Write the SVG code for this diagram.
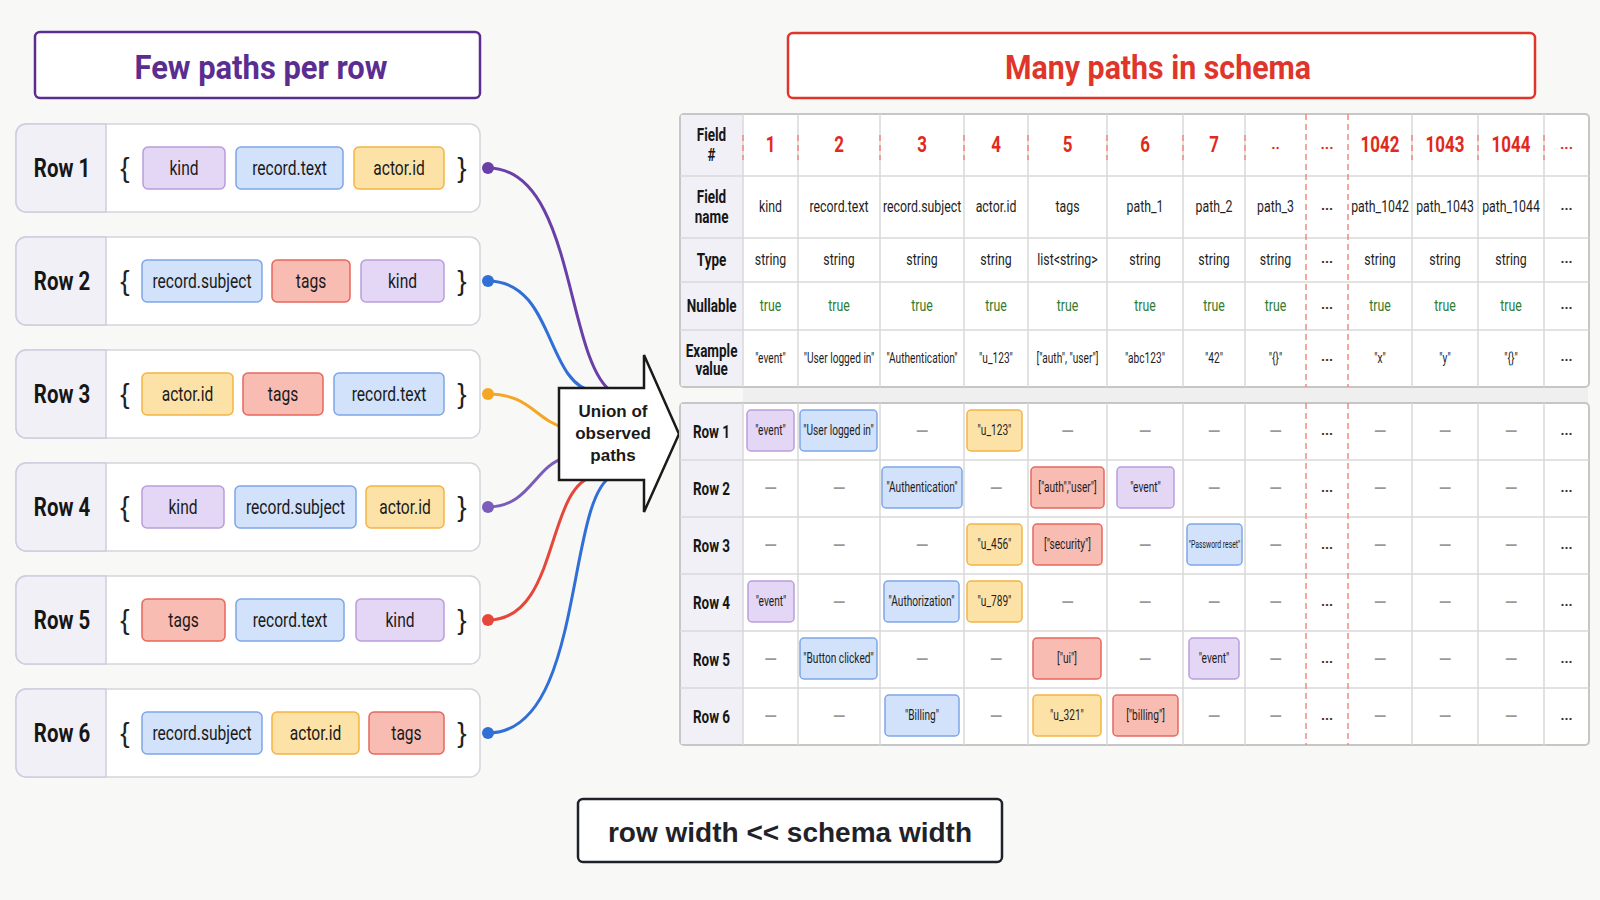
<svg xmlns="http://www.w3.org/2000/svg" width="1600" height="900" viewBox="0 0 1600 900">
<style>
.n{font-family:Roboto,"Liberation Sans",sans-serif}
.w{font-family:"Liberation Sans",Arial,sans-serif}
.c80,.c77,.c70,.c65{transform-box:fill-box;transform-origin:50% 50%}
.c80{transform:scaleX(.8)}
.c77{transform:scaleX(.77)}
.c70{transform:scaleX(.7)}
.c65{transform:scaleX(.65)}
.tl{font-weight:bold;font-size:34px;text-anchor:middle}
.tbox{fill:#fff;stroke-width:2.5}
.rowbox{fill:#fff;stroke:#d5d5dc;stroke-width:1.5}
.rowlab{fill:#f1f0f7;stroke:#cfcbe0;stroke-width:1.5}
.lbl{font-weight:bold;font-size:25.5px;fill:#161616;text-anchor:middle}
.brace{font-size:28px;fill:#222;text-anchor:middle}
.cp{fill:#e4d6f5;stroke:#b99ddb;stroke-width:1.5}
.cb{fill:#d2e2fb;stroke:#7ea6e8;stroke-width:1.5}
.co{fill:#fde2a8;stroke:#f3b443;stroke-width:1.5}
.cr{fill:#f9bcb3;stroke:#e8675c;stroke-width:1.5}
.ct{font-size:19.5px;fill:#1a1a1a;text-anchor:middle}
.con{fill:none;stroke-width:3;stroke-linecap:round}
.frame{fill:#fff;stroke:#c6c6c6;stroke-width:2}
.labcell{fill:#f1f0f6}
.grid{stroke:#d9d9d9;stroke-width:1.5}
.redd{stroke:#ef8a84;stroke-width:1.5;stroke-dasharray:6 4}
.th{font-weight:bold;font-size:17.5px;fill:#161616;text-anchor:middle}
.num{font-weight:bold;font-size:22px;fill:#e02a20;text-anchor:middle}
.tc{font-size:16px;fill:#1e1e1e;text-anchor:middle}
.tru{font-size:16px;fill:#2e7d32;text-anchor:middle}
.ex{font-size:14.5px;fill:#1e1e1e;text-anchor:middle}
.ell{font-weight:bold;font-size:14px;fill:#333;text-anchor:middle}
.ellr{font-weight:bold;font-size:15px;fill:#e02a20;text-anchor:middle}
.dash{font-size:16px;font-weight:bold;fill:#999;text-anchor:middle}
</style>
<rect width="1600" height="900" fill="#f8f8f7"/>

<g id="title-left">
<rect class="tbox" x="35" y="32" width="445" height="66" rx="5" stroke="#5b2d91"/>
<text class="n tl" x="261" y="79" fill="#5b2d91" textLength="253" lengthAdjust="spacingAndGlyphs">Few paths per row</text>
</g>
<g id="title-right">
<rect class="tbox" x="788" y="33" width="747" height="65" rx="5" stroke="#e0352b"/>
<text class="n tl" x="1158" y="79" fill="#e0352b" textLength="306" lengthAdjust="spacingAndGlyphs">Many paths in schema</text>
</g>

<g id="connectors">
<path class="con" stroke="#6a3fa8" d="M488,168 C575,168 565,360 612,392"/>
<path class="con" stroke="#2f6fd6" d="M488,281 C555,281 545,385 595,392"/>
<path class="con" stroke="#f5a623" d="M488,394 C530,394 535,420 565,428"/>
<path class="con" stroke="#7b5cb8" d="M488,507 C530,507 535,465 565,458"/>
<path class="con" stroke="#e5483b" d="M488,620 C560,620 545,485 595,476"/>
<path class="con" stroke="#2f6fd6" d="M488,733 C585,733 565,500 612,476"/>
<circle cx="488" cy="168" r="6" fill="#6a3fa8"/>
<circle cx="488" cy="281" r="6" fill="#2f6fd6"/>
<circle cx="488" cy="394" r="6" fill="#f5a623"/>
<circle cx="488" cy="507" r="6" fill="#7b5cb8"/>
<circle cx="488" cy="620" r="6" fill="#e5483b"/>
<circle cx="488" cy="733" r="6" fill="#2f6fd6"/>
</g>

<g id="row1">
<rect class="rowbox" x="16" y="124" width="464" height="88" rx="10"/>
<path class="rowlab" d="M106,124 H26 A10,10 0 0 0 16,134 V202 A10,10 0 0 0 26,212 H106 Z"/>
<text class="n c80 lbl" x="62" y="177">Row 1</text>
<text class="w brace" x="125" y="177">{</text><text class="w brace" x="462" y="177">}</text>
<rect class="cp" x="143" y="147" width="82" height="42" rx="5"/><text class="n c80 ct" x="184" y="175">kind</text>
<rect class="cb" x="236" y="147" width="107" height="42" rx="5"/><text class="n c80 ct" x="289.5" y="175">record.text</text>
<rect class="co" x="354" y="147" width="90" height="42" rx="5"/><text class="n c80 ct" x="399" y="175">actor.id</text>
</g>
<g id="row2">
<rect class="rowbox" x="16" y="237" width="464" height="88" rx="10"/>
<path class="rowlab" d="M106,237 H26 A10,10 0 0 0 16,247 V315 A10,10 0 0 0 26,325 H106 Z"/>
<text class="n c80 lbl" x="62" y="290">Row 2</text>
<text class="w brace" x="125" y="290">{</text><text class="w brace" x="462" y="290">}</text>
<rect class="cb" x="142" y="260" width="120" height="42" rx="5"/><text class="n c80 ct" x="202" y="288">record.subject</text>
<rect class="cr" x="272" y="260" width="78" height="42" rx="5"/><text class="n c80 ct" x="311" y="288">tags</text>
<rect class="cp" x="361" y="260" width="83" height="42" rx="5"/><text class="n c80 ct" x="402.5" y="288">kind</text>
</g>
<g id="row3">
<rect class="rowbox" x="16" y="350" width="464" height="88" rx="10"/>
<path class="rowlab" d="M106,350 H26 A10,10 0 0 0 16,360 V428 A10,10 0 0 0 26,438 H106 Z"/>
<text class="n c80 lbl" x="62" y="403">Row 3</text>
<text class="w brace" x="125" y="403">{</text><text class="w brace" x="462" y="403">}</text>
<rect class="co" x="142" y="373" width="91" height="42" rx="5"/><text class="n c80 ct" x="187.5" y="401">actor.id</text>
<rect class="cr" x="243" y="373" width="80" height="42" rx="5"/><text class="n c80 ct" x="283" y="401">tags</text>
<rect class="cb" x="334" y="373" width="110" height="42" rx="5"/><text class="n c80 ct" x="389" y="401">record.text</text>
</g>
<g id="row4">
<rect class="rowbox" x="16" y="463" width="464" height="88" rx="10"/>
<path class="rowlab" d="M106,463 H26 A10,10 0 0 0 16,473 V541 A10,10 0 0 0 26,551 H106 Z"/>
<text class="n c80 lbl" x="62" y="516">Row 4</text>
<text class="w brace" x="125" y="516">{</text><text class="w brace" x="462" y="516">}</text>
<rect class="cp" x="142" y="486" width="82" height="42" rx="5"/><text class="n c80 ct" x="183" y="514">kind</text>
<rect class="cb" x="235" y="486" width="121" height="42" rx="5"/><text class="n c80 ct" x="295.5" y="514">record.subject</text>
<rect class="co" x="366" y="486" width="78" height="42" rx="5"/><text class="n c80 ct" x="405" y="514">actor.id</text>
</g>
<g id="row5">
<rect class="rowbox" x="16" y="576" width="464" height="88" rx="10"/>
<path class="rowlab" d="M106,576 H26 A10,10 0 0 0 16,586 V654 A10,10 0 0 0 26,664 H106 Z"/>
<text class="n c80 lbl" x="62" y="629">Row 5</text>
<text class="w brace" x="125" y="629">{</text><text class="w brace" x="462" y="629">}</text>
<rect class="cr" x="142" y="599" width="83" height="42" rx="5"/><text class="n c80 ct" x="183.5" y="627">tags</text>
<rect class="cb" x="236" y="599" width="108" height="42" rx="5"/><text class="n c80 ct" x="290" y="627">record.text</text>
<rect class="cp" x="356" y="599" width="88" height="42" rx="5"/><text class="n c80 ct" x="400" y="627">kind</text>
</g>
<g id="row6">
<rect class="rowbox" x="16" y="689" width="464" height="88" rx="10"/>
<path class="rowlab" d="M106,689 H26 A10,10 0 0 0 16,699 V767 A10,10 0 0 0 26,777 H106 Z"/>
<text class="n c80 lbl" x="62" y="742">Row 6</text>
<text class="w brace" x="125" y="742">{</text><text class="w brace" x="462" y="742">}</text>
<rect class="cb" x="142" y="712" width="120" height="42" rx="5"/><text class="n c80 ct" x="202" y="740">record.subject</text>
<rect class="co" x="272" y="712" width="87" height="42" rx="5"/><text class="n c80 ct" x="315.5" y="740">actor.id</text>
<rect class="cr" x="369" y="712" width="75" height="42" rx="5"/><text class="n c80 ct" x="406.5" y="740">tags</text>
</g>

<g id="union">
<path d="M559,388 L644,388 L644,355 L679,434 L644,512 L644,480 L559,480 Z" fill="#fff" stroke="#1a1a1a" stroke-width="2.5" stroke-linejoin="miter"/>
<text class="w" x="613" y="417" font-size="17" font-weight="bold" fill="#1a1a1a" text-anchor="middle">Union of</text>
<text class="w" x="613" y="439" font-size="17" font-weight="bold" fill="#1a1a1a" text-anchor="middle">observed</text>
<text class="w" x="613" y="461" font-size="17" font-weight="bold" fill="#1a1a1a" text-anchor="middle">paths</text>
</g>

<g id="schema-header">
<rect class="frame" x="680" y="114" width="909" height="273" rx="4"/>
<rect class="labcell" x="681" y="115" width="62" height="271"/>
<rect x="743" y="388" width="845" height="15" fill="#efefef"/>
<g class="grid">
<line x1="743" y1="114" x2="743" y2="387"/><line x1="798" y1="114" x2="798" y2="387"/><line x1="880" y1="114" x2="880" y2="387"/><line x1="964" y1="114" x2="964" y2="387"/><line x1="1028" y1="114" x2="1028" y2="387"/><line x1="1107" y1="114" x2="1107" y2="387"/><line x1="1183" y1="114" x2="1183" y2="387"/><line x1="1245" y1="114" x2="1245" y2="387"/><line x1="1412" y1="114" x2="1412" y2="387"/><line x1="1478" y1="114" x2="1478" y2="387"/><line x1="1544" y1="114" x2="1544" y2="387"/>
<line x1="680" y1="176" x2="1589" y2="176"/><line x1="680" y1="238" x2="1589" y2="238"/><line x1="680" y1="282" x2="1589" y2="282"/><line x1="680" y1="330" x2="1589" y2="330"/>
</g>
<g class="redd">
<line x1="1306" y1="114" x2="1306" y2="387"/><line x1="1348" y1="114" x2="1348" y2="387"/>
<line x1="743" y1="135" x2="743" y2="160"/><line x1="798" y1="135" x2="798" y2="160"/><line x1="880" y1="135" x2="880" y2="160"/><line x1="964" y1="135" x2="964" y2="160"/><line x1="1028" y1="135" x2="1028" y2="160"/><line x1="1107" y1="135" x2="1107" y2="160"/><line x1="1183" y1="135" x2="1183" y2="160"/><line x1="1245" y1="135" x2="1245" y2="160"/><line x1="1412" y1="135" x2="1412" y2="160"/><line x1="1478" y1="135" x2="1478" y2="160"/><line x1="1544" y1="135" x2="1544" y2="160"/>
</g>
<g class="n">
<text class="c77 th" x="711.5" y="141">Field</text><text class="c77 th" x="711.5" y="161">#</text>
<text class="c77 th" x="711.5" y="203">Field</text><text class="c77 th" x="711.5" y="223">name</text>
<text class="c77 th" x="711.5" y="266">Type</text>
<text class="c77 th" x="711.5" y="312">Nullable</text>
<text class="c77 th" x="711.5" y="357">Example</text><text class="c77 th" x="711.5" y="375">value</text>

<text class="c77 num" x="770.5" y="152">1</text><text class="c77 num" x="839" y="152">2</text><text class="c77 num" x="922" y="152">3</text><text class="c77 num" x="996" y="152">4</text><text class="c77 num" x="1067.5" y="152">5</text><text class="c77 num" x="1145" y="152">6</text><text class="c77 num" x="1214" y="152">7</text><text class="ellr" x="1275.5" y="149">..</text><text class="ellr" x="1327" y="149">...</text><text class="c77 num" x="1380" y="152">1042</text><text class="c77 num" x="1445" y="152">1043</text><text class="c77 num" x="1511" y="152">1044</text><text class="ellr" x="1566.5" y="149">...</text>

<text class="c77 tc" x="770.5" y="212">kind</text><text class="c77 tc" x="839" y="212">record.text</text><text class="c77 tc" x="922" y="212">record.subject</text><text class="c77 tc" x="996" y="212">actor.id</text><text class="c77 tc" x="1067.5" y="212">tags</text><text class="c77 tc" x="1145" y="212">path_1</text><text class="c77 tc" x="1214" y="212">path_2</text><text class="c77 tc" x="1275.5" y="212">path_3</text><text class="ell" x="1327" y="210">...</text><text class="c77 tc" x="1380" y="212">path_1042</text><text class="c77 tc" x="1445" y="212">path_1043</text><text class="c77 tc" x="1511" y="212">path_1044</text><text class="ell" x="1566.5" y="210">...</text>

<text class="c77 tc" x="770.5" y="265">string</text><text class="c77 tc" x="839" y="265">string</text><text class="c77 tc" x="922" y="265">string</text><text class="c77 tc" x="996" y="265">string</text><text class="c77 tc" x="1067.5" y="265">list&lt;string&gt;</text><text class="c77 tc" x="1145" y="265">string</text><text class="c77 tc" x="1214" y="265">string</text><text class="c77 tc" x="1275.5" y="265">string</text><text class="ell" x="1327" y="263">...</text><text class="c77 tc" x="1380" y="265">string</text><text class="c77 tc" x="1445" y="265">string</text><text class="c77 tc" x="1511" y="265">string</text><text class="ell" x="1566.5" y="263">...</text>

<text class="c77 tru" x="770.5" y="311">true</text><text class="c77 tru" x="839" y="311">true</text><text class="c77 tru" x="922" y="311">true</text><text class="c77 tru" x="996" y="311">true</text><text class="c77 tru" x="1067.5" y="311">true</text><text class="c77 tru" x="1145" y="311">true</text><text class="c77 tru" x="1214" y="311">true</text><text class="c77 tru" x="1275.5" y="311">true</text><text class="ell" x="1327" y="309">...</text><text class="c77 tru" x="1380" y="311">true</text><text class="c77 tru" x="1445" y="311">true</text><text class="c77 tru" x="1511" y="311">true</text><text class="ell" x="1566.5" y="309">...</text>

<text class="c70 ex" x="770.5" y="363">"event"</text><text class="c70 ex" x="839" y="363">"User logged in"</text><text class="c70 ex" x="922" y="363">"Authentication"</text><text class="c70 ex" x="996" y="363">"u_123"</text><text class="c70 ex" x="1067.5" y="363">["auth", "user"]</text><text class="c70 ex" x="1145" y="363">"abc123"</text><text class="c70 ex" x="1214" y="363">"42"</text><text class="c70 ex" x="1275.5" y="363">"{}"</text><text class="ell" x="1327" y="361">...</text><text class="c70 ex" x="1380" y="363">"x"</text><text class="c70 ex" x="1445" y="363">"y"</text><text class="c70 ex" x="1511" y="363">"{}"</text><text class="ell" x="1566.5" y="361">...</text>
</g>
</g>

<g id="schema-rows">
<rect class="frame" x="680" y="403" width="909" height="342" rx="4"/>
<rect class="labcell" x="681" y="404" width="62" height="340"/>
<g class="grid">
<line x1="743" y1="403" x2="743" y2="745"/><line x1="798" y1="403" x2="798" y2="745"/><line x1="880" y1="403" x2="880" y2="745"/><line x1="964" y1="403" x2="964" y2="745"/><line x1="1028" y1="403" x2="1028" y2="745"/><line x1="1107" y1="403" x2="1107" y2="745"/><line x1="1183" y1="403" x2="1183" y2="745"/><line x1="1245" y1="403" x2="1245" y2="745"/><line x1="1412" y1="403" x2="1412" y2="745"/><line x1="1478" y1="403" x2="1478" y2="745"/><line x1="1544" y1="403" x2="1544" y2="745"/>
<line x1="680" y1="460" x2="1589" y2="460"/><line x1="680" y1="517" x2="1589" y2="517"/><line x1="680" y1="574" x2="1589" y2="574"/><line x1="680" y1="631" x2="1589" y2="631"/><line x1="680" y1="688" x2="1589" y2="688"/>
</g>
<g class="redd"><line x1="1306" y1="403" x2="1306" y2="745"/><line x1="1348" y1="403" x2="1348" y2="745"/></g>

<g class="n">
<text class="c77 th" x="711.5" y="438">Row 1</text><text class="c77 th" x="711.5" y="495">Row 2</text><text class="c77 th" x="711.5" y="552">Row 3</text><text class="c77 th" x="711.5" y="609">Row 4</text><text class="c77 th" x="711.5" y="666">Row 5</text><text class="c77 th" x="711.5" y="723">Row 6</text>

<rect class="cp" x="747" y="410" width="47" height="41" rx="4"/><text class="c70 ex" x="770.5" y="435">"event"</text>
<rect class="cb" x="800" y="410" width="77" height="41" rx="4"/><text class="c70 ex" x="838.5" y="435">"User logged in"</text>
<rect class="co" x="967" y="410" width="55" height="41" rx="4"/><text class="c70 ex" x="994.5" y="435">"u_123"</text>
<text class="dash" x="922" y="437">—</text><text class="dash" x="1067.5" y="437">—</text><text class="dash" x="1145" y="437">—</text><text class="dash" x="1214" y="437">—</text><text class="dash" x="1275.5" y="437">—</text><text class="ell" x="1327" y="435">...</text><text class="dash" x="1380" y="437">—</text><text class="dash" x="1445" y="437">—</text><text class="dash" x="1511" y="437">—</text><text class="ell" x="1566.5" y="435">...</text>

<rect class="cb" x="882" y="467" width="80" height="41" rx="4"/><text class="c70 ex" x="922" y="492">"Authentication"</text>
<rect class="cr" x="1031" y="467" width="73" height="41" rx="4"/><text class="c70 ex" x="1067.5" y="492">["auth","user"]</text>
<rect class="cp" x="1117" y="467" width="57" height="41" rx="4"/><text class="c70 ex" x="1145.5" y="492">"event"</text>
<text class="dash" x="770.5" y="494">—</text><text class="dash" x="839" y="494">—</text><text class="dash" x="996" y="494">—</text><text class="dash" x="1214" y="494">—</text><text class="dash" x="1275.5" y="494">—</text><text class="ell" x="1327" y="492">...</text><text class="dash" x="1380" y="494">—</text><text class="dash" x="1445" y="494">—</text><text class="dash" x="1511" y="494">—</text><text class="ell" x="1566.5" y="492">...</text>

<rect class="co" x="967" y="524" width="55" height="41" rx="4"/><text class="c70 ex" x="994.5" y="549">"u_456"</text>
<rect class="cr" x="1033" y="524" width="69" height="41" rx="4"/><text class="c70 ex" x="1067.5" y="549">["security"]</text>
<rect class="cb" x="1187" y="524" width="55" height="41" rx="4"/><text class="c65 ex" x="1214.5" y="548" style="font-size:10.5px">"Password reset"</text>
<text class="dash" x="770.5" y="551">—</text><text class="dash" x="839" y="551">—</text><text class="dash" x="922" y="551">—</text><text class="dash" x="1145" y="551">—</text><text class="dash" x="1275.5" y="551">—</text><text class="ell" x="1327" y="549">...</text><text class="dash" x="1380" y="551">—</text><text class="dash" x="1445" y="551">—</text><text class="dash" x="1511" y="551">—</text><text class="ell" x="1566.5" y="549">...</text>

<rect class="cp" x="748" y="581" width="46" height="41" rx="4"/><text class="c70 ex" x="771" y="606">"event"</text>
<rect class="cb" x="884" y="581" width="75" height="41" rx="4"/><text class="c70 ex" x="921.5" y="606">"Authorization"</text>
<rect class="co" x="967" y="581" width="55" height="41" rx="4"/><text class="c70 ex" x="994.5" y="606">"u_789"</text>
<text class="dash" x="839" y="608">—</text><text class="dash" x="1067.5" y="608">—</text><text class="dash" x="1145" y="608">—</text><text class="dash" x="1214" y="608">—</text><text class="dash" x="1275.5" y="608">—</text><text class="ell" x="1327" y="606">...</text><text class="dash" x="1380" y="608">—</text><text class="dash" x="1445" y="608">—</text><text class="dash" x="1511" y="608">—</text><text class="ell" x="1566.5" y="606">...</text>

<rect class="cb" x="800" y="638" width="77" height="41" rx="4"/><text class="c70 ex" x="838.5" y="663">"Button clicked"</text>
<rect class="cr" x="1033" y="638" width="68" height="41" rx="4"/><text class="c70 ex" x="1067" y="663">["ui"]</text>
<rect class="cp" x="1189" y="638" width="50" height="41" rx="4"/><text class="c70 ex" x="1214" y="663">"event"</text>
<text class="dash" x="770.5" y="665">—</text><text class="dash" x="922" y="665">—</text><text class="dash" x="996" y="665">—</text><text class="dash" x="1145" y="665">—</text><text class="dash" x="1275.5" y="665">—</text><text class="ell" x="1327" y="663">...</text><text class="dash" x="1380" y="665">—</text><text class="dash" x="1445" y="665">—</text><text class="dash" x="1511" y="665">—</text><text class="ell" x="1566.5" y="663">...</text>

<rect class="cb" x="885" y="695" width="74" height="41" rx="4"/><text class="c70 ex" x="922" y="720">"Billing"</text>
<rect class="co" x="1033" y="695" width="68" height="41" rx="4"/><text class="c70 ex" x="1067" y="720">"u_321"</text>
<rect class="cr" x="1113" y="695" width="65" height="41" rx="4"/><text class="c70 ex" x="1145.5" y="720">["billing"]</text>
<text class="dash" x="770.5" y="722">—</text><text class="dash" x="839" y="722">—</text><text class="dash" x="996" y="722">—</text><text class="dash" x="1214" y="722">—</text><text class="dash" x="1275.5" y="722">—</text><text class="ell" x="1327" y="720">...</text><text class="dash" x="1380" y="722">—</text><text class="dash" x="1445" y="722">—</text><text class="dash" x="1511" y="722">—</text><text class="ell" x="1566.5" y="720">...</text>
</g>
</g>

<g id="footer">
<rect x="578" y="799" width="424" height="63" rx="5" fill="#fff" stroke="#1f2329" stroke-width="2.5"/>
<text class="w" x="790" y="842" font-size="28" font-weight="bold" fill="#1f2329" text-anchor="middle">row width &lt;&lt; schema width</text>
</g>
</svg>
